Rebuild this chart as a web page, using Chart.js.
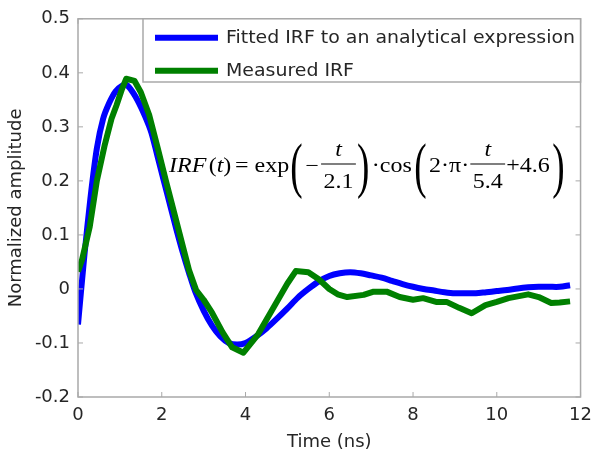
<!DOCTYPE html>
<html>
<head>
<meta charset="utf-8">
<script src="https://cdn.jsdelivr.net/npm/chart.js@4.4.0/dist/chart.umd.min.js"></script>
<style>
  body { margin: 0; background: #fff; }
  #wrap { width: 600px; height: 455px; }
</style>
</head>
<body>
<div id="wrap"><canvas id="irf" width="600" height="455"></canvas></div>
<script>
'use strict';

// values (time in ns, normalized amplitude)
let fittedT = [0, 0.15, 0.3, 0.45, 0.6, 0.75, 0.9, 1.05, 1.15, 1.3, 1.45, 1.6, 1.75, 1.9, 2.05, 2.2, 2.35, 2.5, 2.65, 2.8, 3.0, 3.2, 3.4, 3.6, 3.8, 4.0, 4.25, 4.5, 4.75, 5.0, 5.25, 5.5, 5.75, 6.0, 6.25, 6.5, 6.75, 7.0, 7.25, 7.5, 7.75, 8.0, 8.25, 8.5, 8.75, 9.0, 9.25, 9.5, 9.75, 10.0, 10.25, 10.5, 10.75, 11.0, 11.25, 11.5, 11.75];
let fittedAmp = [-0.066, 0.06, 0.17, 0.26, 0.315, 0.345, 0.366, 0.376, 0.378, 0.365, 0.345, 0.32, 0.29, 0.245, 0.2, 0.155, 0.11, 0.068, 0.03, -0.005, -0.04, -0.068, -0.088, -0.1, -0.103, -0.1, -0.088, -0.073, -0.055, -0.036, -0.016, 0.0, 0.014, 0.024, 0.029, 0.031, 0.029, 0.025, 0.021, 0.015, 0.009, 0.004, 0.0, -0.003, -0.006, -0.008, -0.008, -0.008, -0.006, -0.004, -0.002, 0.001, 0.003, 0.004, 0.004, 0.004, 0.007];

let measuredT = [0, 0.1, 0.28, 0.45, 0.64, 0.8, 0.92, 1.05, 1.15, 1.35, 1.5, 1.7, 1.9, 2.1, 2.3, 2.5, 2.65, 2.82, 3.0, 3.2, 3.45, 3.68, 3.95, 4.3, 4.7, 5.0, 5.2, 5.5, 5.75, 6.0, 6.2, 6.43, 6.82, 7.06, 7.37, 7.68, 8.0, 8.24, 8.55, 8.8, 9.1, 9.4, 9.73, 10.0, 10.28, 10.75, 11.0, 11.3, 11.5, 11.75];
let measuredAmp = [0.032, 0.055, 0.115, 0.2, 0.267, 0.315, 0.34, 0.37, 0.389, 0.385, 0.364, 0.322, 0.262, 0.2, 0.14, 0.08, 0.035, -0.002, -0.02, -0.044, -0.08, -0.108, -0.118, -0.084, -0.03, 0.01, 0.033, 0.031, 0.018, 0.0, -0.01, -0.015, -0.011, -0.005, -0.005, -0.015, -0.02, -0.017, -0.024, -0.024, -0.035, -0.045, -0.03, -0.024, -0.017, -0.01, -0.015, -0.026, -0.025, -0.023];

let seriesNames = ['Fitted IRF to an analytical expression', 'Measured IRF'];
let xTicks = [0, 2, 4, 6, 8, 10, 12];
let yTicks = [-0.2, -0.1, 0, 0.1, 0.2, 0.3, 0.4, 0.5];

const axisGray = '#a9a9a9';
const textColor = '#262626';
const sans = "'DejaVu Sans', Verdana, sans-serif";
const serif = "'Liberation Serif', 'Times New Roman', serif";

function pairs(xs, ys) {
  return xs.map((x, i) => ({ x: x, y: ys[i] }));
}

// box around the axes with small inward ticks, like the original figure
let boxPlugin = {
  id: 'box',
  afterDatasetsDraw(chart) {
    let ctx = chart.ctx;
    let a = chart.chartArea;
    let xs = chart.scales.x, ys = chart.scales.y;
    ctx.save();
    ctx.strokeStyle = axisGray;
    ctx.lineWidth = 1.5;
    ctx.strokeRect(a.left, a.top, a.right - a.left, a.bottom - a.top);
    ctx.lineWidth = 1;
    xTicks.forEach(v => {
      let px = xs.getPixelForValue(v);
      ctx.beginPath();
      ctx.moveTo(px, a.bottom); ctx.lineTo(px, a.bottom - 5);
      ctx.moveTo(px, a.top); ctx.lineTo(px, a.top + 5);
      ctx.stroke();
    });
    yTicks.forEach(v => {
      let py = ys.getPixelForValue(v);
      ctx.beginPath();
      ctx.moveTo(a.left, py); ctx.lineTo(a.left + 5, py);
      ctx.moveTo(a.right, py); ctx.lineTo(a.right - 5, py);
      ctx.stroke();
    });
    ctx.restore();
  }
};

// legend box in the upper right corner of the plot
let legendPlugin = {
  id: 'innerLegend',
  afterDraw(chart) {
    let ctx = chart.ctx;
    let a = chart.chartArea;
    let left = 143, top = a.top, right = a.right, bottom = 82;
    ctx.save();
    ctx.fillStyle = '#fff';
    ctx.fillRect(left, top, right - left, bottom - top);
    ctx.strokeStyle = axisGray;
    ctx.lineWidth = 1.5;
    ctx.strokeRect(left, top, right - left, bottom - top);
    ctx.textBaseline = 'middle';
    chart.data.datasets.forEach((ds, i) => {
      let y = top + 19 + i * 33;
      ctx.strokeStyle = ds.borderColor;
      ctx.lineWidth = 6;
      ctx.beginPath();
      ctx.moveTo(155, y); ctx.lineTo(218, y);
      ctx.stroke();
      ctx.fillStyle = textColor;
      ctx.font = '18px ' + sans;
      // squeeze/stretch so the long entry ends where it does in the figure
      let w = ctx.measureText(seriesNames[0]).width;
      let sx = 349 / w;
      ctx.save();
      ctx.translate(226, y + 1);
      ctx.scale(sx, 1);
      ctx.fillText(ds.label, 0, 0);
      ctx.restore();
    });
    ctx.restore();
  }
};

// the fitted expression written inside the plot
let formulaPlugin = {
  id: 'formula',
  afterDraw(chart) {
    let ctx = chart.ctx;
    let base = 172;
    let x = 0;
    let reg = '20px ' + serif, ital = 'italic 20px ' + serif;
    ctx.save();
    ctx.translate(169, 0);
    ctx.scale(1.2, 1);
    ctx.fillStyle = '#000';
    ctx.strokeStyle = '#000';
    ctx.textBaseline = 'alphabetic';

    function word(t, font, gap) {
      ctx.font = font;
      ctx.fillText(t, x, base);
      x += ctx.measureText(t).width + (gap || 0);
    }
    function paren(ch) {
      ctx.save();
      ctx.font = '62px ' + serif;
      ctx.translate(x, base + 14);
      ctx.scale(0.5, 1);
      ctx.fillText(ch, 0, 0);
      let w = ctx.measureText(ch).width * 0.5;
      ctx.restore();
      x += w + 2;
    }
    function frac(num, den) {
      ctx.font = reg;
      let wd = ctx.measureText(den).width;
      ctx.font = ital;
      let wn = ctx.measureText(num).width;
      let w = Math.max(wd, wn) + 4;
      ctx.fillText(num, x + (w - wn) / 2, base - 16);
      ctx.font = reg;
      ctx.fillText(den, x + (w - wd) / 2, base + 16);
      ctx.lineWidth = 1.2;
      ctx.beginPath();
      ctx.moveTo(x, base - 8); ctx.lineTo(x + w, base - 8);
      ctx.stroke();
      x += w + 1;
    }

    word('IRF', ital, 2);
    word('(', reg);
    word('t', ital);
    word(')', reg, 3);
    word('= exp', reg, 1);
    paren('(');
    word('\u2212', reg, 2);
    frac('t', '2.1');
    paren(')');
    word('\u00b7cos', reg, 2);
    paren('(');
    word('2\u00b7\u03c0\u00b7', reg, 1);
    frac('t', '5.4');
    word('+4.6', reg, 2);
    paren(')');
    ctx.restore();
  }
};

let irfChart = new Chart(document.getElementById('irf'), {
  type: 'line',
  data: {
    datasets: [{
      label: seriesNames[0],
      data: pairs(fittedT, fittedAmp),
      borderColor: '#0000ff',
      borderWidth: 6,
      tension: 0.3,
      order: 1
    }, {
      label: seriesNames[1],
      data: pairs(measuredT, measuredAmp),
      borderColor: '#008000',
      borderWidth: 6,
      tension: 0,
      order: 0
    }]
  },
  options: {
    responsive: false,
    animation: false,
    layout: { padding: { top: 12, right: 14, left: 0, bottom: 0 } },
    elements: {
      point: { radius: 0 },
      line: { borderJoinStyle: 'round', borderCapStyle: 'butt' }
    },
    plugins: {
      legend: { display: false },
      tooltip: { enabled: false }
    },
    scales: {
      x: {
        type: 'linear',
        min: 0, max: 12,
        afterBuildTicks: s => { s.ticks = xTicks.map(v => ({ value: v })); },
        afterFit: s => { s.height = 58; },
        grid: { display: false, drawTicks: false },
        border: { display: false },
        ticks: { color: textColor, font: { family: sans, size: 18 }, padding: 8, maxRotation: 0 },
        title: { display: true, text: 'Time (ns)', color: textColor, font: { family: sans, size: 18 }, padding: { top: 0, bottom: 2 } }
      },
      y: {
        type: 'linear',
        min: -0.2, max: 0.5,
        afterBuildTicks: s => { s.ticks = yTicks.map(v => ({ value: v })); },
        afterFit: s => { s.width = 78; },
        grid: { display: false, drawTicks: false },
        border: { display: false },
        ticks: {
          color: textColor, font: { family: sans, size: 18 }, padding: 8,
          callback: v => String(Number(v.toFixed(1)))
        },
        title: { display: true, text: 'Normalized amplitude', color: textColor, font: { family: sans, size: 18 }, padding: { top: 6, bottom: 0 } }
      }
    }
  },
  plugins: [boxPlugin, legendPlugin, formulaPlugin]
});
</script>
</body>
</html>
